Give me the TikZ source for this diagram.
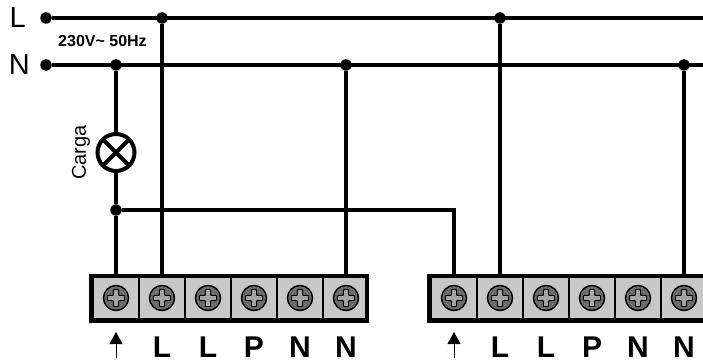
\documentclass[tikz,border=0pt]{standalone}
\usepackage{fontspec}
\setmainfont{Liberation Sans}
\usepackage{tikz}
\usetikzlibrary{positioning,arrows.meta}
\definecolor{cellgray}{HTML}{C8C8C8}
\definecolor{screwgray}{HTML}{6E6E6E}
\definecolor{crossgray}{HTML}{A4A4A4}
\tikzset{
wire/.style={draw,line width=4pt},
dot/.style={circle,fill=black,inner sep=0pt,minimum size=11.5pt},
terminal/.style={draw,rectangle,fill=cellgray,line width=1.4pt,outer sep=0pt,
    minimum width=44.6pt,minimum height=40.6pt,inner sep=0pt,
    path picture={
    \fill[screwgray,draw=black,line width=1.5pt] (path picture bounding box.center) circle (12.5pt);
    \draw[fill=crossgray,line width=1.1pt,rounded corners=.8pt] (path picture bounding box.center)
        ++(-2.6pt,-8.6pt) -- ++(5.2pt,0) -- ++(0,6pt) -- ++(6pt,0) -- ++(0,5.2pt) -- ++(-6pt,0)
        -- ++(0,6pt) -- ++(-5.2pt,0) -- ++(0,-6pt) -- ++(-6pt,0) -- ++(0,-5.2pt) -- ++(6pt,0) -- cycle;
    }},
block/.style={inner sep=0pt,outer sep=0pt,row sep=0pt,column sep=0pt},
frame/.style={draw,line width=4.4pt},
marktext/.style={font=\bfseries\fontsize{30}{30}\selectfont,text height=21pt,text depth=0pt,inner sep=0pt},
}
\begin{document}
\begin{tikzpicture}[x=1pt,y=-1pt]
\clip (0,0) rectangle (703,363);
\matrix (blocka) [block] at (231,298) {
\node (a1) [terminal] {}; & \node (a2) [terminal] {}; & \node (a3) [terminal] {}; &
\node (a4) [terminal] {}; & \node (a5) [terminal] {}; & \node (a6) [terminal] {}; \\
};
\matrix (blockb) [block] at (569,298) {
\node (b1) [terminal] {}; & \node (b2) [terminal] {}; & \node (b3) [terminal] {}; &
\node (b4) [terminal] {}; & \node (b5) [terminal] {}; & \node (b6) [terminal] {}; \\
};
\draw [frame] ([shift={(-3,-2)}]a1.north west) rectangle ([shift={(-1.5,2.5)}]a6.south east);
\draw [frame] ([shift={(-3,-2)}]b1.north west) rectangle ([shift={(-1.5,2.5)}]b6.south east);
\node [marktext,below=18pt of a2] {L};
\node [marktext,below=18pt of a3] {L};
\node [marktext,below=18pt of a4] {P};
\node [marktext,below=18pt of a5] {N};
\node [marktext,below=18pt of a6] {N};
\node [marktext,below=18pt of b2] {L};
\node [marktext,below=18pt of b3] {L};
\node [marktext,below=18pt of b4] {P};
\node [marktext,below=18pt of b5] {N};
\node [marktext,below=18pt of b6] {N};
% mains
\node (lineL) [dot] at (46,18) {};
\node (lineN) [dot] at (46,65) {};
\coordinate (endL) at (710,18);
\coordinate (endN) at (710,65);
\node (textL) [left=14pt of lineL,inner sep=0pt,font=\fontsize{29}{29}\selectfont] {L};
\node (textN) [left=10pt of lineN,inner sep=0pt,font=\fontsize{29}{29}\selectfont] {N};
\node (volt) [font=\bfseries\fontsize{16}{16}\selectfont,inner sep=0pt] at (102.5,41) {230V\textasciitilde{} 50Hz};
\draw [wire] (lineL) -- (endL);
\draw [wire] (lineN) -- (endN);
% junctions
\node (jL1) [dot] at (a2|-lineL) {};
\node (jL2) [dot] at (b2|-lineL) {};
\node (jN1) [dot] at (a1|-lineN) {};
\node (jN2) [dot] at (a6|-lineN) {};
\node (jN3) [dot] at (b6|-lineN) {};
\coordinate (rowC) at (0,210);
\node (jC) [dot] at (a1|-rowC) {};
\coordinate (bend) at (b1|-jC);
% load
\coordinate (rowlamp) at (0,152.5);
\node (lamp) [circle,draw,line width=4pt,minimum size=37pt,inner sep=0pt] at (a1|-rowlamp) {};
\draw [line width=4pt] (lamp.45) -- (lamp.225) (lamp.135) -- (lamp.315);
\node (carga) [left=14.5pt of lamp,rotate=90,anchor=center,inner sep=0pt,font=\fontsize{20}{20}\selectfont] {Carga};
% wires
\draw [wire] (jN1) -- (lamp);
\draw [wire] (lamp) -- (jC);
\draw [wire] (jC) -- (a1.north);
\draw [wire] (jL1) -- (a2.north);
\draw [wire] (jN2) -- (a6.north);
\draw [wire] (jC) -- (bend) -- (b1.north);
\draw [wire] (jL2) -- (b2.north);
\draw [wire] (jN3) -- (b6.north);
% arrows
\coordinate (rowtip) at (0,332);
\coordinate (rowtail) at (0,358);
\draw [-{Triangle[length=12pt,width=13pt]},line width=1pt] (a1|-rowtail) -- (a1|-rowtip);
\draw [-{Triangle[length=12pt,width=13pt]},line width=1pt] (b1|-rowtail) -- (b1|-rowtip);
\end{tikzpicture}
\end{document}
